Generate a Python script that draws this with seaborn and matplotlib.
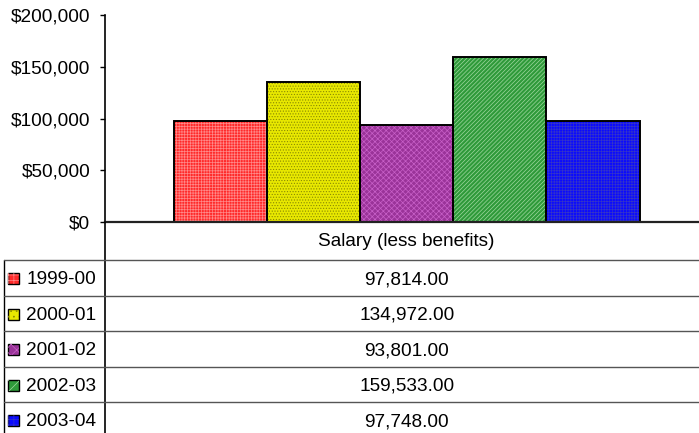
import pandas as pd
import seaborn as sns
import matplotlib.pyplot as plt
import matplotlib.transforms as mtransforms
from matplotlib.patches import Rectangle
from matplotlib.ticker import FuncFormatter

# chart data
periods = ["1999-00", "2000-01", "2001-02", "2002-03", "2003-04"]
salary = [97814.00, 134972.00, 93801.00, 159533.00, 97748.00]
category = "Salary (less benefits)"

# Excel-like fill patterns: base colour, pattern colour, hatch
face_colors = ["#ff2a2a", "#e8e800", "#9a3399", "#2f9a3a", "#0a0aff"]
pattern_colors = ["#ff8a8a", "#8a8a00", "#c860c8", "#a0d8a0", "#3535c8"]
hatches = ["++++++", "......", "xxxxxx", "////////", "++++++"]

df = pd.DataFrame({"period": periods, "salary": salary, "category": category})

sns.set_style("white")
plt.rcParams["font.family"] = ["Liberation Sans", "DejaVu Sans"]
plt.rcParams["hatch.linewidth"] = 0.5

W, H = 699, 433
fs = 13.7
fig = plt.figure(figsize=(W / 100, H / 100), dpi=100)
fig.patch.set_facecolor("white")

# main bar axes (pixel layout)
ax = fig.add_axes([105 / W, (H - 222) / H, (W - 105) / W, (222 - 15) / H])
sns.barplot(data=df, x="category", y="salary", hue="period",
            palette=face_colors, saturation=1, width=0.8, gap=0,
            legend=False, ax=ax)

for p, pc, h in zip(ax.patches, pattern_colors, hatches):
    p.set_hatch(h)
    p.set_edgecolor(pc)
    p.set_linewidth(0)
    ax.add_patch(Rectangle(p.get_xy(), p.get_width(), p.get_height(),
                           fill=False, edgecolor="black", linewidth=1.4,
                           zorder=p.get_zorder() + 1))

ax.set_xlim(-0.518, 0.502)
ax.set_ylim(0, 200000)
ax.set_yticks(range(0, 200001, 50000))
ax.yaxis.set_major_formatter(FuncFormatter(lambda v, _: f"${v:,.0f}"))
ax.tick_params(axis="y", left=True, length=3.6, width=1, pad=7,
               labelsize=fs, colors="black")
ax.set_xticks([])
ax.set_xlabel("")
ax.set_ylabel("")
for side in ["top", "right"]:
    ax.spines[side].set_visible(False)
ax.spines["left"].set_color("black")
ax.spines["left"].set_linewidth(1.2)
ax.spines["bottom"].set_color("#222222")
ax.spines["bottom"].set_linewidth(1.6)

# data table below the plot
tax = fig.add_axes([0, 0, 1, (H - 222) / H])
tax.set_xlim(0, W)
tax.set_ylim(H, 222)
tax.axis("off")

trans = mtransforms.blended_transform_factory(ax.transData, tax.transData)
header_bottom = 260
row_h = 35.5

tax.text(0, (222 + header_bottom) / 2 + 1, category, transform=trans,
         ha="center", va="center", fontsize=fs, color="black")

# left axis line continues through the table
tax.plot([105, 105], [222, H + 5], color="black", lw=1.2, clip_on=False)
tax.plot([4, 4], [header_bottom, H + 5], color="black", lw=1.0, clip_on=False)

for i, (per, val) in enumerate(zip(periods, salary)):
    top = header_bottom + i * row_h
    mid = top + row_h / 2
    tax.plot([4, W], [top, top], color="#555555", lw=1.0, clip_on=False)
    # legend key
    key = Rectangle((8, mid - 4.5), 11, 11, facecolor=face_colors[i],
                    edgecolor="black", lw=1.0)
    tax.add_patch(key)
    key_h = Rectangle((8, mid - 4.5), 11, 11, facecolor="none",
                      edgecolor=pattern_colors[i], lw=0, hatch=hatches[i][:3])
    tax.add_patch(key_h)
    tax.text(26, mid + 2, per, ha="left", va="center", fontsize=fs,
             color="black")
    tax.text(0, mid + 2, f"{val:,.2f}", transform=trans, ha="center",
             va="center", fontsize=fs, color="black")

fig.savefig("out.png", dpi=100)
